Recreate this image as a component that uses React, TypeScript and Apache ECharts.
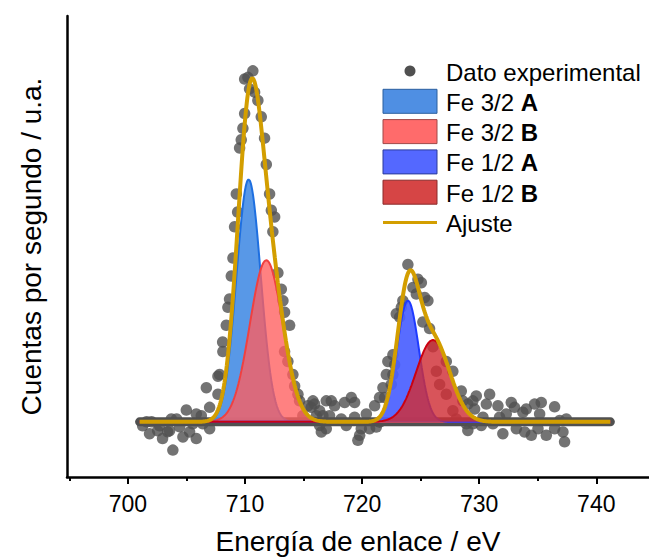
import React, { useEffect, useRef } from 'react';
import * as echarts from 'echarts';

// ---- axis ticks ----
const xMajorTicks = [700, 710, 720, 730, 740];
const xMinorTicks = [695, 705, 715, 725, 735];

// ---- fitted components: name, center (eV), height (counts), FWHM (eV) ----
const peakNames = ['Fe 3/2 A', 'Fe 3/2 B', 'Fe 1/2 A', 'Fe 1/2 B'];
const peakCenters = [710.31, 711.82, 723.91, 726.05];
const peakHeights = [2460, 1640, 1230, 830];
const peakFwhm = [2.43, 3.3, 2.2, 3.4];
const fitRange = [701.0, 741.2];

// ---- experimental points [energy eV, counts] ----
const experimental: [number, number][] = [
  [701.26, -40], [701.6, 0], [701.85, -120], [702.02, 0], [702.54, -90], [702.71, -40],
  [702.96, -170], [703.39, -100], [703.56, -90], [703.71, 30], [703.84, -287],
  [704.16, 30], [704.42, -50], [704.7, -153], [704.99, 120], [705.27, -103],
  [705.54, -20], [705.84, 80], [705.84, -170], [706.27, 63], [706.4, -20],
  [706.7, 347], [706.98, 147], [706.98, -70], [707.69, 463], [707.69, 280],
  [707.83, 480], [708.11, 713], [708.09, 810], [708.4, 980], [708.54, 1163],
  [708.68, 1247], [708.83, 1480], [708.97, 1663], [709.11, 1980], [709.26, 2313],
  [709.37, 2130], [709.54, 2780], [709.68, 2863], [709.82, 2980], [709.97, 3130],
  [709.97, 3480], [710.25, 3497], [710.39, 3380], [710.67, 3563], [710.82, 3347],
  [711.1, 3263], [711.39, 3097], [711.67, 2880], [711.82, 2613], [712.1, 2313],
  [712.25, 2147], [712.53, 2080], [712.38, 1930], [712.81, 1513], [713.1, 1347],
  [713.24, 1230], [713.38, 1113], [713.81, 980], [713.38, 713], [713.66, 613],
  [714.09, 480], [714.24, 363], [714.52, 280], [714.66, 213],
  [714.94, 63], [715.37, 163], [715.66, 147], [715.8, 213], [715.94, 180],
  [716.09, 63], [716.37, 113], [716.37, -37], [716.52, -103], [716.65, 63],
  [716.94, 213], [716.94, -70], [717.22, 63], [717.37, 213], [717.65, 163],
  [718.22, 30], [718.51, 197], [718.65, -37], [719.08, 247], [719.36, 197],
  [719.36, 47], [719.64, -187], [719.79, -137], [719.93, -70], [720.36, 80],
  [720.64, -70], [721.07, 163], [721.21, -53], [721.49, 247], [721.49, -3],
  [721.78, 347], [721.92, 247], [722.07, 480], [722.2, 613], [722.49, 380],
  [722.63, 680], [722.63, 480], [722.78, 580],
  [722.92, 1097], [723.21, 1063], [723.35, 1163], [723.48, 1230], [723.91, 1597],
  [724.34, 1363], [724.63, 1297], [724.77, 1447], [725.06, 1413], [725.19, 1013],
  [725.34, 1263], [725.62, 1230], [725.76, 947], [726.05, 763], [726.34, 513],
  [726.62, 380], [727.19, 613], [727.19, 280], [727.75, 513], [727.75, 113],
  [728.04, 30], [728.47, 313], [728.61, 213], [728.9, -20], [729.03, 180],
  [729.03, -87], [729.46, 213], [729.46, -20], [729.61, 130], [729.75, 263],
  [730.18, -37], [730.32, 47], [730.61, 180], [730.89, 280], [731.17, -20],
  [731.6, 163], [731.74, 47], [732.02, -120], [732.31, 80], [732.74, 197],
  [733.02, 147], [733.17, -70], [733.73, 97], [733.88, -103], [734.02, 130],
  [734.45, -137], [734.73, 180], [735.02, -70], [735.16, 80], [735.3, 197],
  [735.73, -137], [736.44, 153], [736.44, -70], [736.87, 13], [737.15, -103],
  [737.29, -203], [737.44, 30],
];

// ---- legend entries ----
const legendLabels = [
  { plain: 'Dato experimental', bold: '' },
  { plain: 'Fe 3/2 ', bold: 'A' },
  { plain: 'Fe 3/2 ', bold: 'B' },
  { plain: 'Fe 1/2 ', bold: 'A' },
  { plain: 'Fe 1/2 ', bold: 'B' },
  { plain: 'Ajuste', bold: '' },
];

const FONT = "'Liberation Sans', Arial, Helvetica, sans-serif";
const pointColor = '#505050';
const fitColor = '#D39E00';
const fillColors = ['#4A8FE5', '#FF5E5E', '#4A5FFF', '#D02E36'];
const strokeColors = ['#1E6FE0', '#F04040', '#1F3BFF', '#CC0010'];
const swatchColors = ['#4F8FE3', '#FF6B6B', '#5468FF', '#D64545'];
const swatchBorders = ['#2B5E9E', '#A04848', '#2A3A9A', '#8A2A2A'];

function gauss(x: number, c: number, h: number, fwhm: number) {
  const s = fwhm / 2.3548;
  return h * Math.exp(-((x - c) * (x - c)) / (2 * s * s));
}

export default function App() {
  const ref = useRef<HTMLDivElement>(null);

  useEffect(() => {
    if (!ref.current) return;
    const chart = echarts.init(ref.current, undefined, { renderer: 'svg' });

    const xs: number[] = [];
    for (let x = fitRange[0]; x <= fitRange[1] + 1e-9; x += 0.05) xs.push(+x.toFixed(3));

    const comps = peakNames.map((_, i) =>
      xs.map((x) => [x, gauss(x, peakCenters[i], peakHeights[i], peakFwhm[i])])
    );
    const fit = xs.map((x, k) => [x, comps.reduce((s, c) => s + (c[k][1] as number), 0)]);

    const compSeries = peakNames.map((name, i) => ({
      type: 'line',
      name,
      data: comps[i],
      showSymbol: false,
      symbol: 'none',
      lineStyle: { color: strokeColors[i], width: 2 },
      areaStyle: { color: fillColors[i], opacity: i === 1 ? 0.78 : i === 3 ? 0.82 : 0.92 },
      z: 3 + i,
      silent: true,
    }));

    const legendGraphics: any[] = [];
    const lx = 383;
    const ly0 = 71;
    const dy = 30.3;
    legendLabels.forEach((lab, i) => {
      const cy = ly0 + i * dy;
      if (i === 0) {
        legendGraphics.push({ type: 'circle', shape: { cx: lx + 27, cy, r: 5.5 }, style: { fill: pointColor } });
      } else if (i <= 4) {
        legendGraphics.push({
          type: 'rect',
          shape: { x: lx, y: cy - 12, width: 54, height: 24 },
          style: { fill: swatchColors[i - 1], stroke: swatchBorders[i - 1], lineWidth: 1 },
        });
      } else {
        legendGraphics.push({
          type: 'line',
          shape: { x1: lx, y1: cy, x2: lx + 54, y2: cy },
          style: { stroke: fitColor, lineWidth: 3 },
        });
      }
      legendGraphics.push({
        type: 'text',
        x: 446,
        y: cy + 1,
        style: {
          text: lab.bold ? `{n|${lab.plain}}{b|${lab.bold}}` : `{n|${lab.plain}}`,
          verticalAlign: 'middle',
          align: 'left',
          rich: {
            n: { fontSize: 24, fontFamily: FONT, fill: '#000' },
            b: { fontSize: 24, fontFamily: FONT, fontWeight: 'bold', fill: '#000' },
          },
        },
      });
    });

    chart.setOption({
      animation: false,
      backgroundColor: '#fff',
      grid: { left: 67, right: 0, top: 16, bottom: 76, containLabel: false },
      xAxis: [
        {
          type: 'value',
          min: 694.8,
          max: 744.5,
          name: 'Energía de enlace / eV',
          nameLocation: 'middle',
          nameGap: 50,
          nameTextStyle: { fontSize: 28, fontFamily: FONT, color: '#000' },
          axisLine: { show: true, onZero: false, lineStyle: { color: '#000', width: 2.5 } },
          axisTick: { show: true, customValues: xMajorTicks, length: 7, lineStyle: { color: '#000', width: 2 } },
          axisLabel: { show: true, customValues: xMajorTicks, fontSize: 23, fontFamily: FONT, color: '#000', margin: 15 },
          splitLine: { show: false },
        },
        {
          type: 'value',
          min: 694.8,
          max: 744.5,
          position: 'bottom',
          axisLine: { show: false, onZero: false },
          axisTick: { show: true, customValues: xMinorTicks, length: 4, lineStyle: { color: '#000', width: 2 } },
          axisLabel: { show: false },
          splitLine: { show: false },
        },
      ],
      yAxis: {
        type: 'value',
        min: -560,
        max: 4120,
        name: 'Cuentas por segundo / u.a.',
        nameLocation: 'middle',
        nameGap: 22,
        nameTextStyle: { fontSize: 28, fontFamily: FONT, color: '#000' },
        axisLine: { show: true, onZero: false, lineStyle: { color: '#000', width: 2.5 } },
        axisTick: { show: false },
        axisLabel: { show: false },
        splitLine: { show: false },
      },
      series: [
        {
          type: 'line',
          name: 'baseline',
          data: [[fitRange[0], 0], [fitRange[1], 0]],
          showSymbol: false,
          symbol: 'none',
          lineStyle: { color: pointColor, width: 9, cap: 'round' },
          z: 1,
          silent: true,
        },
        {
          type: 'scatter',
          name: 'Dato experimental',
          data: experimental,
          symbolSize: 11.5,
          itemStyle: { color: pointColor },
          z: 2,
          silent: true,
        },
        ...compSeries,
        {
          type: 'line',
          name: 'Ajuste',
          data: fit,
          showSymbol: false,
          symbol: 'none',
          lineStyle: { color: fitColor, width: 4 },
          z: 10,
          silent: true,
        },
      ],
      graphic: legendGraphics,
    });

    return () => chart.dispose();
  }, []);

  return (
    <div
      ref={ref}
      style={{ position: 'fixed', left: 0, top: 0, width: 649, height: 560, background: '#fff' }}
    />
  );
}
